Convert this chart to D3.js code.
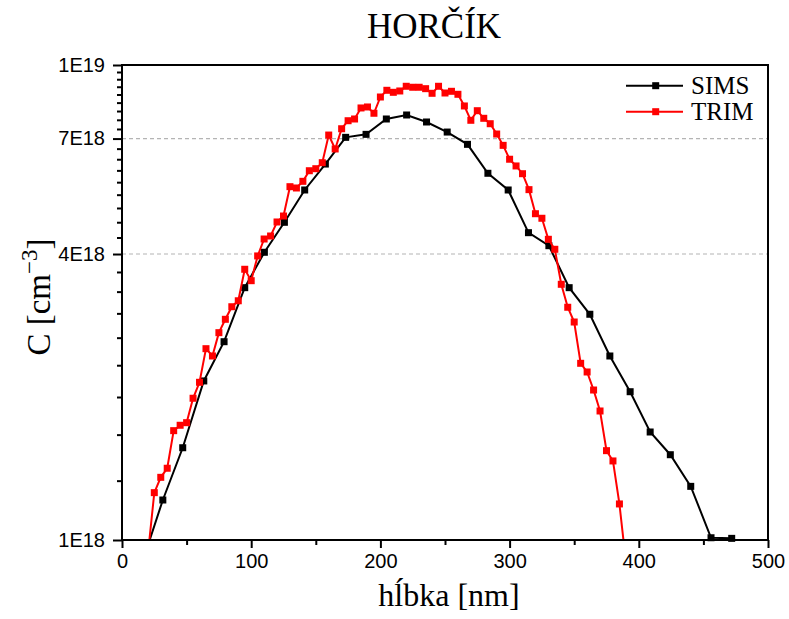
<!DOCTYPE html>
<html>
<head>
<meta charset="utf-8">
<script src="https://cdn.jsdelivr.net/npm/d3@7"></script>
<style>
  html, body { margin: 0; padding: 0; background: #fff; }
  svg { display: block; }
</style>
</head>
<body>
<svg id="chart" width="789" height="619"></svg>
<script>
// ---------------- DATA ----------------
const chartTitle = "HORČÍK";
const xLabel = "hĺbka [nm]";
const seriesNames = ["SIMS", "TRIM"];
const seriesColors = ["#000000", "#ff0000"];

// SIMS: depth [nm] and concentration [×1E18 cm^-3]
const simsDepth = [15.9, 31.6, 47.0, 63.3, 79.0, 95.0, 110.2, 125.7, 141.4, 157.4, 173.1, 188.9, 204.6, 220.3, 235.7,
  251.7, 267.4, 283.2, 298.9, 314.6, 330.4, 346.1, 362.1, 377.6, 393.3, 408.8, 424.4, 440.2, 455.9, 471.9];
const simsConc = [0.90, 1.214, 1.564, 2.162, 2.615, 3.398, 4.034, 4.665, 5.456, 6.187, 7.042, 7.145, 7.697, 7.848, 7.586,
  7.225, 6.807, 5.916, 5.456, 4.436, 4.165, 3.398, 2.987, 2.440, 2.052, 1.688, 1.512, 1.297, 1.011, 1.008];

// TRIM: depth [nm] and concentration [×1E18 cm^-3]
const trimDepth = [20, 25, 30, 35, 40, 45, 50, 55, 60, 65, 70, 75, 80, 85, 90, 95, 100, 105, 110, 115, 120, 125,
  130, 135, 140, 145, 150, 155, 160, 165, 170, 175, 180, 185, 190, 195, 200, 205, 210, 215, 220, 225, 230, 235,
  240, 245, 250, 255, 260, 265, 270, 275, 280, 285, 290, 295, 300, 305, 310, 315, 320, 325, 330, 335, 340, 345,
  350, 355, 360, 365, 370, 375, 380, 385, 390];
const trimConc = [0.93, 1.258, 1.355, 1.416, 1.699, 1.744, 1.766, 1.988, 2.148, 2.528, 2.440, 2.732, 2.915, 3.098,
  3.189, 3.715, 3.515, 3.963, 4.302, 4.365, 4.672, 4.809, 5.544, 5.509, 5.690, 5.990, 6.049, 6.228, 7.121, 6.656,
  7.342, 7.633, 7.697, 8.120, 8.159, 7.914, 8.563, 8.846, 8.760, 8.817, 9.020, 8.977, 8.977, 8.916, 8.718, 9.020,
  8.731, 8.803, 8.676, 8.199, 7.649, 8.013, 7.723, 7.523, 7.156, 6.774, 6.333, 6.130, 5.904, 5.465, 4.863, 4.757,
  4.296, 4.093, 3.454, 3.090, 2.877, 2.355, 2.258, 2.069, 1.869, 1.542, 1.467, 1.191, 0.90];

// Axes
const xTicks = [0, 100, 200, 300, 400, 500];
const xMinorTicks = [50, 150, 250, 350, 450];
const yTicks = [1, 4, 7, 10];
const yTickLabels = ["1E18", "4E18", "7E18", "1E19"];
const yGridValues = [4, 7];

// ---------------- LAYOUT ----------------
const L = 122, R = 768, T = 65, B = 540;
const svg = d3.select("#chart");
const serif = "'Liberation Serif', 'Times New Roman', serif";
const sans = "'Liberation Sans', Arial, sans-serif";

const x = d3.scaleLinear().domain([0, 500]).range([L, R]);
const y = d3.scaleLog().domain([1, 10]).range([B, T]);

// minor y ticks: every 1/3 E18 between majors
const yMinor = [];
for (let k = 4; k < 30; k++) { if (k % 9 !== 3) yMinor.push(k / 3); }

// grid
svg.append("g").selectAll("line").data(yGridValues).join("line")
  .attr("x1", L).attr("x2", R)
  .attr("y1", d => y(d)).attr("y2", d => y(d))
  .attr("stroke", "#b4b4b4").attr("stroke-width", 1.2).attr("stroke-dasharray", "4,3");

// clip
svg.append("defs").append("clipPath").attr("id", "clip")
  .append("rect").attr("x", L).attr("y", T).attr("width", R - L).attr("height", B - T);

// series
const series = [
  { name: seriesNames[0], color: seriesColors[0], pts: simsDepth.map((d, i) => [d, simsConc[i]]) },
  { name: seriesNames[1], color: seriesColors[1], pts: trimDepth.map((d, i) => [d, trimConc[i]]) }
];
const line = d3.line().x(d => x(d[0])).y(d => y(Math.max(d[1], 0.5)));
const ms = 7;
series.forEach(s => {
  svg.append("path").datum(s.pts).attr("d", line)
    .attr("fill", "none").attr("stroke", s.color).attr("stroke-width", 2)
    .attr("clip-path", "url(#clip)");
  svg.append("g").selectAll("rect").data(s.pts.filter(p => p[1] >= 1 && p[1] <= 10)).join("rect")
    .attr("x", d => x(d[0]) - ms / 2).attr("y", d => y(d[1]) - ms / 2)
    .attr("width", ms).attr("height", ms).attr("fill", s.color);
});

// axes
const yAxis = svg.append("g").attr("transform", `translate(${L},0)`)
  .call(d3.axisLeft(y).tickValues(yTicks).tickSize(9).tickPadding(8)
    .tickFormat((d, i) => yTickLabels[i]));
yAxis.select(".domain").remove();
yAxis.selectAll(".tick line").attr("stroke", "#000").attr("stroke-width", 2);
yAxis.selectAll(".tick text").attr("font-family", sans).attr("font-size", 20).attr("fill", "#000");
svg.append("g").attr("transform", `translate(${L},0)`)
  .call(d3.axisLeft(y).tickValues(yMinor).tickSize(5).tickFormat(""))
  .call(g => g.select(".domain").remove())
  .selectAll("line").attr("stroke", "#000").attr("stroke-width", 2);

const xAxis = svg.append("g").attr("transform", `translate(0,${B})`)
  .call(d3.axisBottom(x).tickValues(xTicks).tickSize(8).tickPadding(6).tickFormat(d3.format("d")));
xAxis.select(".domain").remove();
xAxis.selectAll(".tick line").attr("stroke", "#000").attr("stroke-width", 2);
xAxis.selectAll(".tick text").attr("font-family", sans).attr("font-size", 20).attr("fill", "#000");
svg.append("g").attr("transform", `translate(0,${B})`)
  .call(d3.axisBottom(x).tickValues(xMinorTicks).tickSize(5).tickFormat(""))
  .call(g => g.select(".domain").remove())
  .selectAll("line").attr("stroke", "#000").attr("stroke-width", 2);

// frame
svg.append("rect").attr("x", L).attr("y", T).attr("width", R - L).attr("height", B - T)
  .attr("fill", "none").attr("stroke", "#000").attr("stroke-width", 2);

// title & labels
svg.append("text").attr("x", 434).attr("y", 38).attr("text-anchor", "middle")
  .attr("font-family", serif).attr("font-size", 35).text(chartTitle);
svg.append("text").attr("x", 449).attr("y", 606).attr("text-anchor", "middle")
  .attr("font-family", serif).attr("font-size", 32).text(xLabel);
const yl = svg.append("text").attr("transform", "translate(50,297) rotate(-90)")
  .attr("text-anchor", "middle").attr("font-family", serif).attr("font-size", 33);
yl.append("tspan").text("C [cm");
yl.append("tspan").attr("dy", -13).attr("font-size", 23).text("−3");
yl.append("tspan").attr("dy", 13).text("]");

// legend
const lg = svg.append("g");
series.forEach((s, i) => {
  const ly = 85.7 + i * 26;
  lg.append("line").attr("x1", 626).attr("x2", 683).attr("y1", ly).attr("y2", ly)
    .attr("stroke", s.color).attr("stroke-width", 2);
  lg.append("rect").attr("x", 655.7 - ms / 2).attr("y", ly - ms / 2).attr("width", ms).attr("height", ms)
    .attr("fill", s.color);
  lg.append("text").attr("x", 691).attr("y", ly + 8.5).attr("font-family", serif).attr("font-size", 25)
    .text(s.name);
});
</script>
</body>
</html>
